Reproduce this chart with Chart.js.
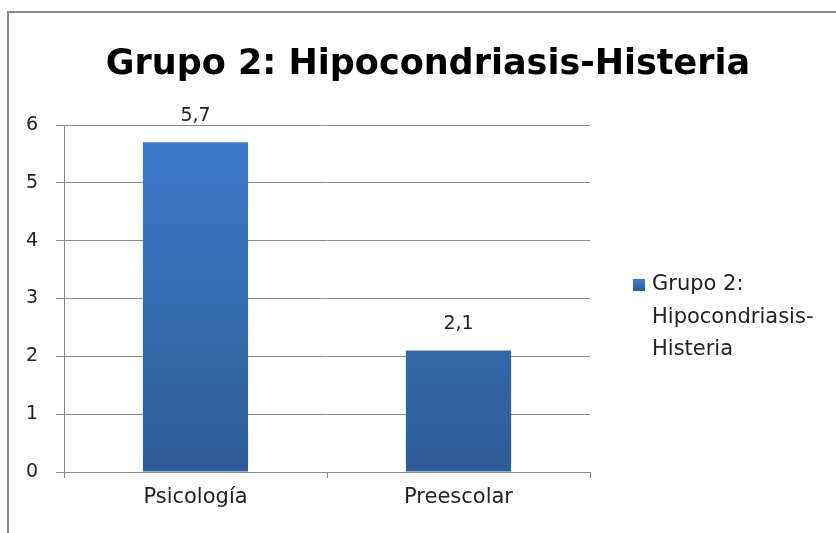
<!DOCTYPE html>
<html lang="es">
<head>
    <meta charset="UTF-8">
    <title>Grupo 2: Hipocondriasis-Histeria</title>
    <script src="https://cdn.jsdelivr.net/npm/chart.js"></script>
    <style>
        body { margin: 0; background: #fff; }
        .wrap { position: relative; width: 836px; height: 533px; overflow: hidden; }
        .frame { position: absolute; left: 7px; top: 11px; width: 900px; height: 600px; border: 2px solid #8a8a8a; box-sizing: border-box; }
        canvas { position: absolute; left: 0; top: 0; }
    </style>
</head>
<body>
    <div class="wrap">
        <div class="frame"></div>
        <canvas id="chart" width="836" height="533"></canvas>
    </div>

    <script>
        const categories = ["Psicología", "Preescolar"];
        const seriesName = "Grupo 2: Hipocondriasis-Histeria";
        const legendLines = ["Grupo 2:", "Hipocondriasis-", "Histeria"];
        const values = [5.7, 2.1];
        const yTicks = [0, 1, 2, 3, 4, 5, 6];

        const fontFamily = "'DejaVu Sans', 'Noto Sans', sans-serif";

        function blueGradient(ctx, top, bottom) {
            const g = ctx.createLinearGradient(0, top, 0, bottom);
            g.addColorStop(0, '#3d7ccc');
            g.addColorStop(1, '#2d5c98');
            return g;
        }

        function barGradient(context) {
            const area = context.chart.chartArea;
            if (!area) return '#3a74c0';
            return blueGradient(context.chart.ctx, area.top, area.bottom);
        }

        // title drawn over the whole width (legend included)
        const bigTitle = {
            id: 'bigTitle',
            afterDraw(chart) {
                const ctx = chart.ctx;
                ctx.save();
                ctx.font = "bold 35px " + fontFamily;
                ctx.fillStyle = '#000';
                ctx.textAlign = 'center';
                ctx.textBaseline = 'middle';
                ctx.fillText(seriesName, 428, 65);
                ctx.restore();
            }
        };

        // value labels above each bar
        const valueLabels = {
            id: 'valueLabels',
            afterDatasetsDraw(chart) {
                const ctx = chart.ctx;
                const meta = chart.getDatasetMeta(0);
                ctx.save();
                ctx.font = "19px " + fontFamily;
                ctx.fillStyle = '#222';
                ctx.textAlign = 'center';
                ctx.textBaseline = 'middle';
                meta.data.forEach((bar, i) => {
                    ctx.fillText(String(values[i]).replace('.', ','), bar.x, bar.y - 26);
                });
                ctx.restore();
            }
        };

        // wrapped legend on the right
        const sideLegend = {
            id: 'sideLegend',
            afterDraw(chart) {
                const ctx = chart.ctx;
                const x = chart.chartArea.right + 43;
                const y = 285;
                ctx.save();
                ctx.fillStyle = blueGradient(ctx, y - 6, y + 6);
                ctx.fillRect(x, y - 6, 12, 12);
                ctx.font = "21px " + fontFamily;
                ctx.fillStyle = '#222';
                ctx.textBaseline = 'middle';
                legendLines.forEach((line, i) => {
                    ctx.fillText(line, x + 19, y + i * 32.5);
                });
                ctx.restore();
            }
        };

        new Chart(document.getElementById('chart'), {
            type: 'bar',
            data: {
                labels: categories,
                datasets: [{
                    label: seriesName,
                    data: values,
                    backgroundColor: barGradient,
                    categoryPercentage: 0.4,
                    barPercentage: 1
                }]
            },
            options: {
                responsive: false,
                animation: false,
                layout: { padding: { left: 8, right: 246, top: 125, bottom: 0 } },
                plugins: {
                    legend: { display: false },
                    tooltip: { enabled: false },
                    title: { display: false }
                },
                scales: {
                    x: {
                        grid: { drawOnChartArea: false, drawTicks: true, tickLength: 6, color: '#8a8a8a' },
                        border: { color: '#8a8a8a' },
                        ticks: { color: '#222', font: { family: fontFamily, size: 21 }, padding: 7 },
                        afterFit(scale) { scale.height = 61; }
                    },
                    y: {
                        min: 0,
                        max: 6,
                        afterBuildTicks(scale) { scale.ticks = yTicks.map(v => ({ value: v })); },
                        grid: { color: '#8a8a8a', tickLength: 8 },
                        border: { color: '#8a8a8a' },
                        ticks: { color: '#222', font: { family: fontFamily, size: 19 }, padding: 18 },
                        afterFit(scale) { scale.width = 56; }
                    }
                }
            },
            plugins: [bigTitle, valueLabels, sideLegend]
        });
    </script>
</body>
</html>
